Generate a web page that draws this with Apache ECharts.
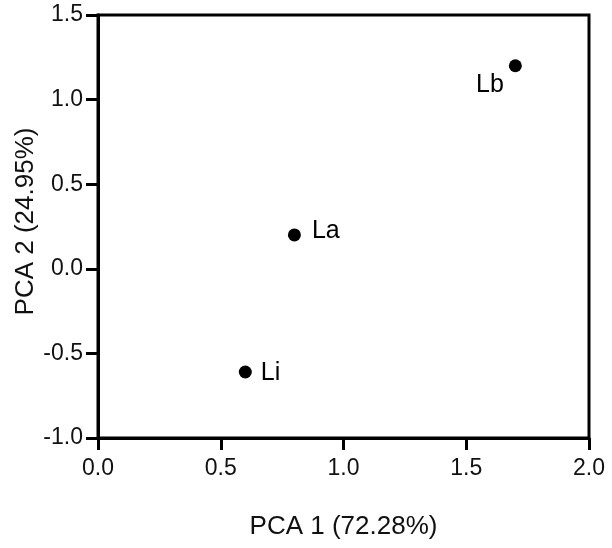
<!DOCTYPE html>
<html>
<head>
<meta charset="utf-8">
<script src="https://cdn.jsdelivr.net/npm/echarts@6/dist/echarts.min.js"></script>
<style>html,body{margin:0;padding:0;background:#fff}#c{width:612px;height:548px}</style>
</head>
<body>
<div id="c"></div>
<script>
const names = ['Lb', 'La', 'Li'];
const pca1 = [1.7, 0.8, 0.6];
const pca2 = [1.2, 0.2, -0.61];
const xTicks = [0.0, 0.5, 1.0, 1.5, 2.0];
const yTicks = [-1.0, -0.5, 0.0, 0.5, 1.0, 1.5];
const labelPos = ['left', 'right', 'right'];
const labelOffset = [[0, 19], [6, -4], [4, 1]];

const chart = echarts.init(document.getElementById('c'));
const font = '"Liberation Sans", Arial, sans-serif';
chart.setOption({
  animation: false,
  backgroundColor: '#fff',
  grid: { left: 98, top: 15, right: 23, bottom: 110, show: true, borderColor: '#000', borderWidth: 3, backgroundColor: 'transparent' },
  xAxis: {
    type: 'value', min: xTicks[0], max: xTicks[xTicks.length - 1], interval: 0.5,
    name: 'PCA 1 (72.28%)', nameLocation: 'middle', nameGap: 76, nameMoveOverlap: false,
    nameTextStyle: { fontFamily: font, fontSize: 26, color: '#111' },
    axisLine: { onZero: false, lineStyle: { color: '#000', width: 3 } },
    axisTick: { length: 12, lineStyle: { color: '#000', width: 3 } },
    axisLabel: { fontFamily: font, fontSize: 23, color: '#111', margin: 19, formatter: v => v.toFixed(1) },
    splitLine: { show: false }
  },
  yAxis: {
    type: 'value', min: yTicks[0], max: yTicks[yTicks.length - 1], interval: 0.5,
    name: 'PCA 2 (24.95%)', nameLocation: 'middle', nameGap: 59, nameMoveOverlap: false,
    nameTextStyle: { fontFamily: font, fontSize: 26, color: '#111', padding: [0, 0, 0, 10] },
    axisLine: { onZero: false, lineStyle: { color: '#000', width: 3 } },
    axisTick: { length: 12, lineStyle: { color: '#000', width: 3 } },
    axisLabel: { fontFamily: font, fontSize: 23, color: '#111', margin: 15, formatter: v => v.toFixed(1) },
    splitLine: { show: false }
  },
  series: [{
    type: 'scatter',
    symbolSize: 13,
    itemStyle: { color: '#000', opacity: 1 },
    data: names.map((n, i) => ({
      value: [pca1[i], pca2[i]], name: n,
      label: { show: true, position: labelPos[i], formatter: '{b}', offset: labelOffset[i] }
    })),
    label: { show: true, fontFamily: font, fontSize: 25, color: '#000', formatter: '{b}' }
  }]
});
</script>
</body>
</html>
